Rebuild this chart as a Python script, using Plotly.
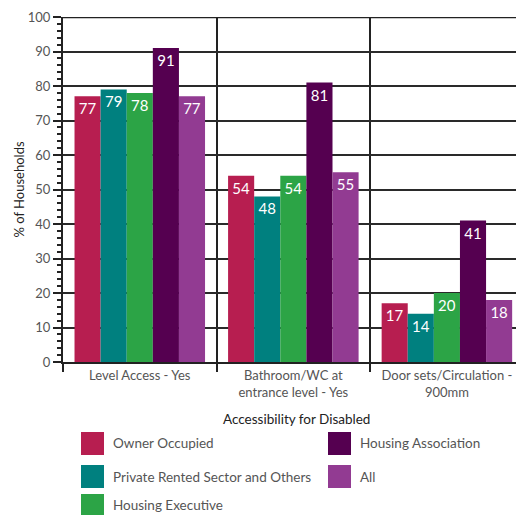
import plotly.graph_objects as go

# Survey results: share of households with each accessibility feature
categories = ["Level Access - Yes",
              "Bathroom/WC at<br>entrance level - Yes",
              "Door sets/Circulation -<br>900mm"]
series_names = ["Owner Occupied", "Private Rented Sector and Others",
                "Housing Executive", "Housing Association", "All"]
owner_occupied = [77, 54, 17]
private_rented = [79, 48, 14]
housing_executive = [78, 54, 20]
housing_association = [91, 81, 41]
all_tenures = [77, 55, 18]
series_values = [owner_occupied, private_rented, housing_executive,
                 housing_association, all_tenures]
colors = ["#B71E50", "#00807F", "#2CA446", "#550050", "#923B92"]

W, H = 516, 515
ML, MR, MT, MB = 63, 0, 17, 153
PW, PH = W - ML - MR, H - MT - MB


def px_x(px):
    return (px - ML) / PW


def px_y(py):
    return (H - MB - py) / PH


FONT = "Lato, 'Open Sans', sans-serif"

fig = go.Figure()
for name, vals, col in zip(series_names, series_values, colors):
    fig.add_trace(go.Bar(
        x=categories, y=vals, name=name, marker_color=col,
        marker_line_width=0, text=[str(v) for v in vals],
        textposition="inside", insidetextanchor="end",
        textfont=dict(color="white", size=15, family=FONT),
        constraintext="none", showlegend=False,
    ))

# Legend laid out in two columns below the chart
legend_cols = [(81, 111), (328, 358)]
legend_rows = [443.5, 476.5, 505.5]
slots = [(0, 0), (0, 1), (0, 2), (1, 0), (1, 1)]
shapes = []
annotations = []
for name, col, (c, r) in zip(series_names, colors, slots):
    sx, tx = legend_cols[c]
    cy = legend_rows[r]
    shapes.append(dict(type="rect", xref="paper", yref="paper",
                       x0=px_x(sx), x1=px_x(sx + 23),
                       y0=px_y(cy + 11.5), y1=px_y(cy - 11.5),
                       fillcolor=col, line_width=0, layer="above"))
    annotations.append(dict(text=name, xref="paper", yref="paper",
                            x=px_x(tx), y=px_y(cy), xanchor="left",
                            yanchor="middle", showarrow=False,
                            font=dict(size=13.5, color="#555", family=FONT)))

annotations.append(dict(text="Accessibility for Disabled", xref="paper",
                        yref="paper", x=px_x(296), y=px_y(419),
                        xanchor="center", yanchor="middle", showarrow=False,
                        font=dict(size=13.5, color="#222", family=FONT)))
annotations.append(dict(text="% of Households", xref="paper", yref="paper",
                        x=px_x(18), y=0.5, xanchor="center",
                        yanchor="middle", textangle=-90, showarrow=False,
                        font=dict(size=13, color="#222", family=FONT)))

# top border line
shapes.append(dict(type="line", xref="paper", yref="y", x0=0, x1=1,
                   y0=100, y1=100, line=dict(color="#222", width=2.5)))

fig.update_layout(
    width=W, height=H,
    margin=dict(l=ML, r=MR, t=MT, b=MB),
    paper_bgcolor="white", plot_bgcolor="white",
    barmode="group", bargap=0.15, bargroupgap=0,
    shapes=shapes, annotations=annotations,
    font=dict(family=FONT),
    xaxis=dict(range=[-0.5, 2.45], tickson="boundaries", ticks="outside",
               ticklen=8, tickwidth=2, tickcolor="#222",
               showgrid=True, gridcolor="#222", gridwidth=2,
               showline=True, linecolor="#222", linewidth=2,
               tickfont=dict(size=13, color="#555", family=FONT)),
    yaxis=dict(range=[0, 100], dtick=10, ticks="outside", ticklen=8,
               tickwidth=2, tickcolor="#222", showgrid=True,
               gridcolor="#2a2a2a", gridwidth=1.5, zeroline=False,
               showline=True, linecolor="#222", linewidth=2,
               tickfont=dict(size=13, color="#555", family=FONT),
               minor=dict(dtick=2, ticks="outside", ticklen=4,
                          tickwidth=1.5, tickcolor="#222", showgrid=False)),
)

fig.write_html("out.html")
